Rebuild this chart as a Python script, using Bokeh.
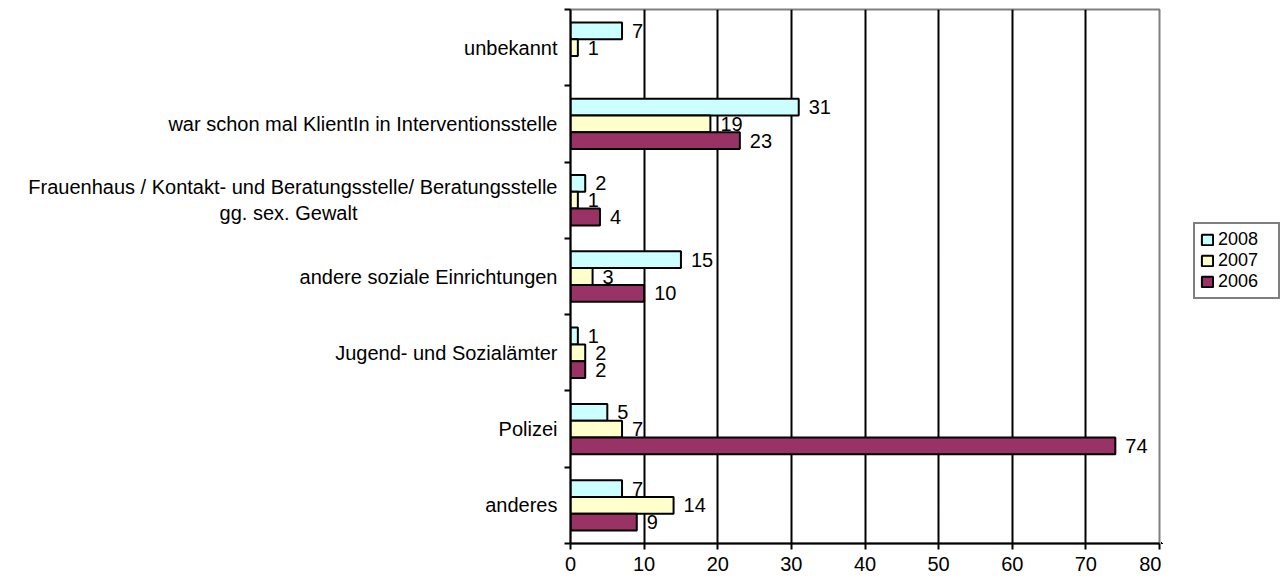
from bokeh.plotting import figure
from bokeh.layouts import row
from bokeh.models import (Range1d, ColumnDataSource, LinearAxis, FixedTicker, Legend, LegendItem)
from bokeh.core.properties import value
from bokeh.embed import file_html
from bokeh.resources import INLINE

NB = "\u00a0"
categories = [
    "unbekannt",
    "war schon mal KlientIn in Interventionsstelle",
    "Frauenhaus / Kontakt- und Beratungsstelle/ Beratungsstelle\ngg. sex. Gewalt",
    "andere soziale Einrichtungen",
    "Jugend- und Sozialämter",
    "Polizei",
    "anderes",
]
years = ["2008", "2007", "2006"]
v2008 = [7, 31, 2, 15, 1, 5, 7]
v2007 = [1, 19, 1, 3, 2, 7, 14]
v2006 = [None, 23, 4, 10, 2, 74, 9]
x_ticks = [0, 10, 20, 30, 40, 50, 60, 70, 80]

colors = {"2008": "#CCFFFF", "2007": "#FFFFCC", "2006": "#993366"}
offsets = {"2008": 0.22, "2007": 0.0, "2006": -0.22}
series = {"2008": v2008, "2007": v2007, "2006": v2006}

FONT = "Liberation Sans"
FS = "20px"

n = len(categories)
centers = [n - i - 0.5 for i in range(n)]   # first category at the top


def centred(label):
    # centre the second line of a two-line label under the first (axis labels are right-aligned)
    lines = label.split("\n")
    if len(lines) == 1:
        return label
    return lines[0] + "\n" + lines[1] + NB * 36


H = 578
p = figure(width=1161, height=H, output_backend="svg", toolbar_location=None,
           y_range=Range1d(0, n), x_range=Range1d(0, 80),
           y_axis_location=None, x_axis_location="below",
           min_border_left=570, min_border_right=2, min_border_top=9, min_border_bottom=35)
p.outline_line_color = "#808080"
p.outline_line_width = 2
p.background_fill_color = "white"
p.border_fill_color = "white"

# x axis
xa = p.xaxis[0]
xa.ticker = FixedTicker(ticks=x_ticks)
xa.axis_line_color = "black"
xa.axis_line_width = 2
xa.major_tick_line_color = "black"
xa.major_tick_line_width = 2
xa.major_tick_out = 6
xa.major_tick_in = 0
xa.minor_tick_line_color = None
xa.major_label_text_font = FONT
xa.major_label_text_font_size = FS
xa.major_label_text_color = "black"
xa.major_label_standoff = 7

p.ygrid.grid_line_color = None
p.xgrid.ticker = FixedTicker(ticks=x_ticks[1:-1])
p.xgrid.grid_line_color = "black"
p.xgrid.grid_line_width = 2

# boundary ticks axis on the left (innermost)
ta = LinearAxis(ticker=FixedTicker(ticks=list(range(n + 1))))
ta.axis_line_color = "black"
ta.axis_line_width = 2
ta.major_tick_line_color = "black"
ta.major_tick_line_width = 2
ta.major_tick_out = 6
ta.major_tick_in = 0
ta.minor_tick_line_color = None
ta.major_label_overrides = {i: "" for i in range(n + 1)}
ta.major_label_text_font_size = "1px"
ta.major_label_standoff = 0
p.add_layout(ta, "left")

# category label axis
ca = LinearAxis(ticker=FixedTicker(ticks=centers))
ca.major_label_overrides = {c: centred(lab) for c, lab in zip(centers, categories)}
ca.axis_line_color = None
ca.major_tick_line_color = None
ca.minor_tick_line_color = None
ca.major_label_text_font = FONT
ca.major_label_text_font_size = FS
ca.major_label_text_color = "black"
ca.major_label_standoff = 1
p.add_layout(ca, "left")

sources = {}
for yr in years:
    ys = [c + offsets[yr] for c, v in zip(centers, series[yr]) if v is not None]
    vals = [v for v in series[yr] if v is not None]
    src = ColumnDataSource(dict(y=ys, val=vals, lab=[str(v) for v in vals]))
    sources[yr] = src
    p.hbar(y="y", left=0, right="val", height=0.22,
           fill_color=colors[yr], line_color="black", line_width=2, source=src)
    p.text(x="val", y="y", text="lab", source=src,
           x_offset=10, text_baseline="middle", text_align="left",
           text_font=value(FONT), text_font_size=FS, text_color="black")

# legend panel (same series, drawn outside its visible ranges; only the legend shows)
q = figure(width=122, height=H, output_backend="svg", toolbar_location=None,
           x_range=Range1d(1000, 1001), y_range=Range1d(1000, 1001),
           x_axis_location=None, y_axis_location=None,
           min_border_left=0, min_border_right=0, min_border_top=0, min_border_bottom=0)
q.outline_line_color = None
q.xgrid.grid_line_color = None
q.ygrid.grid_line_color = None
q.border_fill_color = "white"
q.background_fill_color = "white"
items = []
for yr in years:
    r = q.hbar(y="y", left=0, right="val", height=0.22, source=sources[yr],
               fill_color=colors[yr], line_color="black", line_width=2)
    items.append(LegendItem(label=yr, renderers=[r]))

legend = Legend(items=items, location=(32, 244))
legend.label_text_font = FONT
legend.label_text_font_size = "18px"
legend.label_text_color = "black"
legend.glyph_width = 14
legend.glyph_height = 13
legend.label_height = 13
legend.label_width = 55
legend.label_standoff = 4
legend.spacing = 0
legend.padding = 5
legend.margin = 0
legend.border_line_color = "black"
legend.border_line_width = 2
legend.background_fill_color = "white"
legend.background_fill_alpha = 1
q.add_layout(legend, "center")

layout = row(p, q, spacing=0)
open("out.html", "w").write(file_html(layout, INLINE))
